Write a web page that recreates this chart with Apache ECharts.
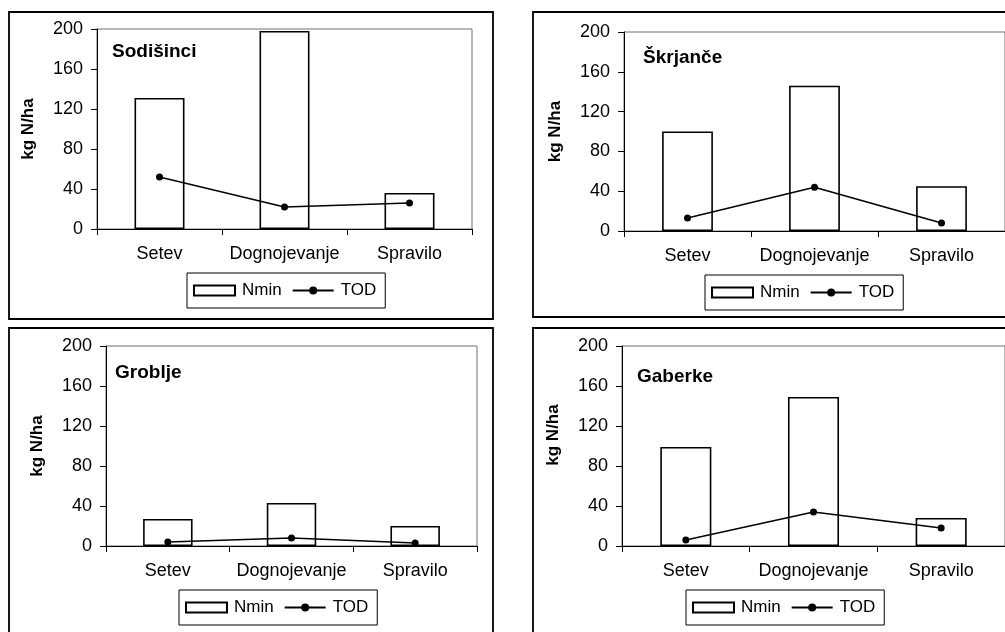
<!DOCTYPE html>
<html>
<head>
<meta charset="utf-8">
<script src="https://cdn.jsdelivr.net/npm/echarts@6/dist/echarts.min.js"></script>
<style>
html,body{margin:0;padding:0;background:#fff;}
#chart{width:1005px;height:632px;}
</style>
</head>
<body>
<div id="chart"></div>
<script>
// ---- data ----
const categories = ['Setev', 'Dognojevanje', 'Spravilo'];
const sites = ['Sodišinci', 'Škrjanče', 'Groblje', 'Gaberke'];
const nminSodisinci = [131, 198, 36];
const todSodisinci = [52, 22, 26];
const nminSkrjance = [100, 146, 45];
const todSkrjance = [13, 44, 8];
const nminGroblje = [27, 43, 20];
const todGroblje = [4, 8, 3];
const nminGaberke = [99, 149, 28];
const todGaberke = [6, 34, 18];
const yTicks = [0, 40, 80, 120, 160, 200];
const yAxisName = 'kg N/ha';
const seriesNames = ['Nmin', 'TOD'];

const nminAll = [nminSodisinci, nminSkrjance, nminGroblje, nminGaberke];
const todAll = [todSodisinci, todSkrjance, todGroblje, todGaberke];

// ---- layout (styles only) ----
const grids = [
  {left: 97, top: 29, width: 375, height: 200},
  {left: 624, top: 32, width: 382, height: 199},
  {left: 106, top: 346, width: 371, height: 200},
  {left: 622, top: 346, width: 387, height: 200}
];
const boxes = [
  {x: 9, y: 12, width: 484, height: 307},
  {x: 533, y: 12, width: 490, height: 305},
  {x: 9, y: 328, width: 484, height: 320},
  {x: 533, y: 328, width: 490, height: 320}
];
const titlePos = [
  {left: 112, top: 42},
  {left: 643, top: 48},
  {left: 115, top: 363},
  {left: 637, top: 367}
];
const legendPos = [
  {left: 187, top: 273},
  {left: 705, top: 275},
  {left: 179, top: 590},
  {left: 686, top: 590}
];
const namePad = [0, 0, 0, 12];

const FONT = 'Arial, "Liberation Sans", sans-serif';

const option = {
  animation: false,
  backgroundColor: '#fff',
  textStyle: {fontFamily: FONT, color: '#000'},
  graphic: boxes.map(b => ({
    type: 'rect', silent: true, z: 0,
    shape: {x: b.x, y: b.y, width: b.width, height: b.height},
    style: {fill: 'none', stroke: '#000', lineWidth: 1.8}
  })),
  title: sites.map((s, i) => ({
    text: s, left: titlePos[i].left, top: titlePos[i].top, padding: 0,
    textStyle: {fontFamily: FONT, fontSize: 19, fontWeight: 'bold', color: '#000'}
  })),
  legend: legendPos.map(p => ({
    left: p.left, top: p.top, orient: 'horizontal',
    data: [{name: seriesNames[0], icon: 'rect'}, seriesNames[1]],
    itemWidth: 41, itemHeight: 10, itemGap: 10,
    padding: [9, 9, 9, 6],
    borderColor: '#000', borderWidth: 1,
    selectedMode: false,
    textStyle: {fontFamily: FONT, fontSize: 17, color: '#000', padding: [0, 0, 0, 2]}
  })),
  grid: grids.map(g => ({
    left: g.left, top: g.top, width: g.width, height: g.height,
    show: true, borderColor: '#707070', borderWidth: 1, backgroundColor: 'transparent'
  })),
  xAxis: grids.map((g, i) => ({
    type: 'category', gridIndex: i, data: categories, boundaryGap: true,
    axisLine: {lineStyle: {color: '#000', width: 1}},
    axisTick: {show: true, interval: 0, length: 6, lineStyle: {color: '#000'}},
    axisLabel: {fontFamily: FONT, fontSize: 18, color: '#000', margin: 16, interval: 0},
    splitLine: {show: false}
  })),
  yAxis: grids.map((g, i) => ({
    type: 'value', gridIndex: i, min: yTicks[0], max: yTicks[yTicks.length - 1],
    interval: yTicks[1] - yTicks[0],
    name: yAxisName, nameLocation: 'middle', nameGap: 60, nameRotate: 90,
    nameTextStyle: {fontFamily: FONT, fontSize: 17, fontWeight: 'bold', color: '#000',
      padding: i === 3 ? [0, 0, 0, 22] : [0, 0, 0, 0]},
    axisLine: {show: true, lineStyle: {color: '#000', width: 1}},
    axisTick: {show: true, length: 6, lineStyle: {color: '#000'}},
    axisLabel: {fontFamily: FONT, fontSize: 18, color: '#000', margin: 14},
    splitLine: {show: false}
  })),
  series: []
};

for (let i = 0; i < 4; i++) {
  option.series.push({
    name: seriesNames[0], type: 'bar', xAxisIndex: i, yAxisIndex: i,
    data: nminAll[i], barWidth: '40%',
    itemStyle: {color: '#fff', borderColor: '#000', borderWidth: 1.6}
  });
  option.series.push({
    name: seriesNames[1], type: 'line', xAxisIndex: i, yAxisIndex: i,
    data: todAll[i], symbol: 'circle', symbolSize: 7,
    lineStyle: {color: '#000', width: 1.5},
    itemStyle: {color: '#000'}, z: 3
  });
}

const chart = echarts.init(document.getElementById('chart'), null, {renderer: 'canvas'});
chart.setOption(option);
</script>
</body>
</html>
